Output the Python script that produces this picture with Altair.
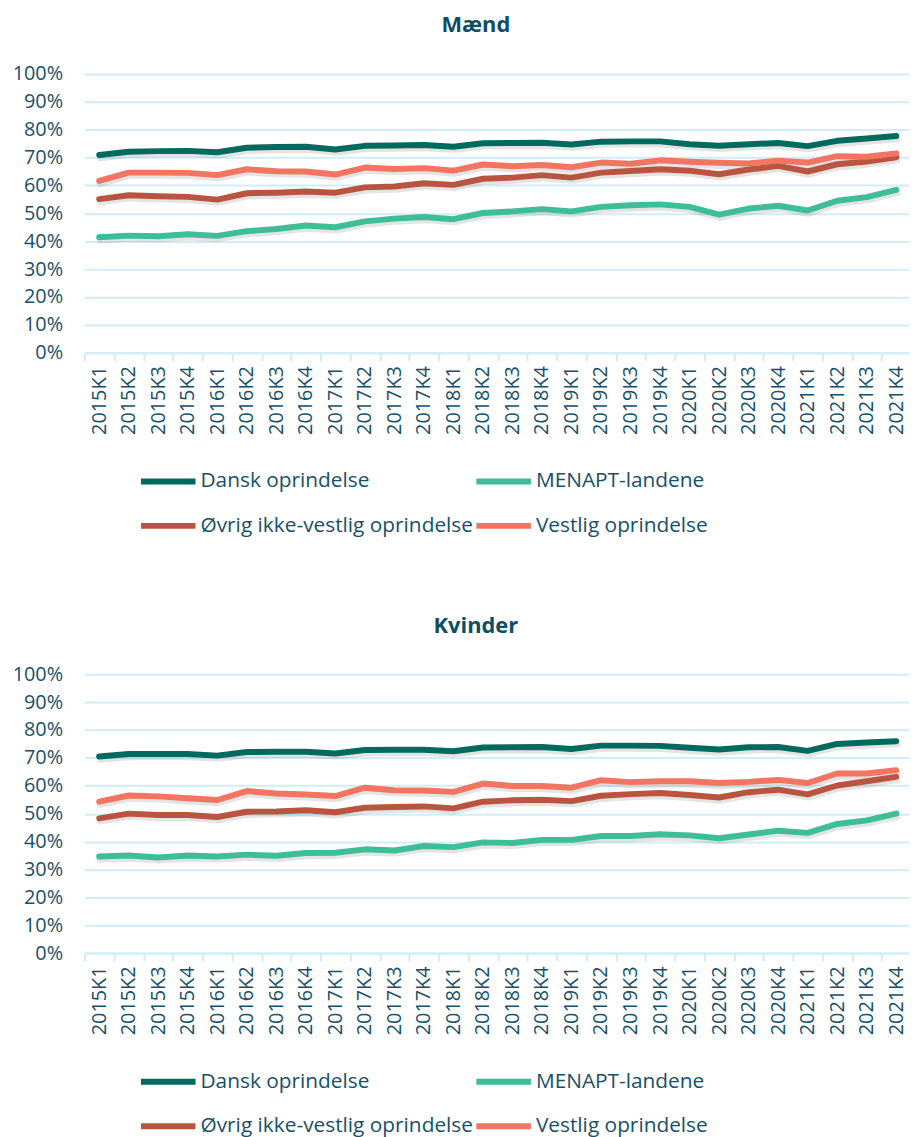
import altair as alt
import pandas as pd

quarters = [f"{y}K{q}" for y in range(2015, 2022) for q in range(1, 5)]

series_names = ["Dansk oprindelse", "MENAPT-landene",
                "Øvrig ikke-vestlig oprindelse", "Vestlig oprindelse"]
series_colors = ["#006A5F", "#3DBD98", "#B95441", "#F27461"]

# Mænd
m_dansk = [70.9, 72.1, 72.3, 72.4, 71.9, 73.5, 73.8, 73.9, 72.9, 74.2, 74.3, 74.5, 73.9, 75.1,
           75.2, 75.3, 74.7, 75.7, 75.8, 75.8, 74.8, 74.2, 74.8, 75.2, 74.1, 76.0, 76.8, 77.7]
m_menapt = [41.4, 42.0, 41.8, 42.5, 41.9, 43.6, 44.4, 45.6, 45.0, 47.1, 48.1, 48.7, 47.9, 50.1,
            50.7, 51.5, 50.7, 52.3, 52.9, 53.2, 52.3, 49.5, 51.7, 52.7, 51.0, 54.5, 55.8, 58.4]
m_ovrig = [55.1, 56.5, 56.1, 55.9, 54.9, 57.2, 57.4, 57.8, 57.4, 59.3, 59.6, 60.8, 60.2, 62.4,
           62.8, 63.7, 62.8, 64.6, 65.2, 65.8, 65.3, 64.0, 65.7, 67.0, 65.0, 67.6, 68.6, 70.1]
m_vestlig = [61.6, 64.6, 64.6, 64.5, 63.7, 65.8, 65.1, 65.0, 63.9, 66.4, 65.9, 66.2, 65.3, 67.5,
             66.9, 67.3, 66.5, 68.2, 67.8, 69.0, 68.5, 68.1, 67.9, 68.9, 68.2, 70.5, 70.3, 71.5]

# Kvinder
k_dansk = [70.5, 71.4, 71.4, 71.4, 70.8, 72.1, 72.2, 72.2, 71.6, 72.8, 72.9, 72.9, 72.4, 73.7,
           73.8, 73.9, 73.2, 74.4, 74.4, 74.3, 73.6, 73.0, 73.8, 73.9, 72.5, 75.0, 75.5, 76.0]
k_menapt = [34.6, 35.0, 34.3, 35.0, 34.6, 35.3, 34.9, 35.9, 36.0, 37.2, 36.8, 38.4, 38.0, 39.7,
            39.5, 40.6, 40.6, 42.0, 42.0, 42.6, 42.2, 41.2, 42.5, 43.9, 43.1, 46.3, 47.6, 50.0]
k_ovrig = [48.3, 50.0, 49.5, 49.5, 48.8, 50.7, 50.8, 51.2, 50.5, 52.1, 52.4, 52.6, 51.9, 54.3,
           54.8, 55.0, 54.5, 56.4, 57.0, 57.4, 56.7, 55.8, 57.7, 58.6, 56.9, 60.1, 61.6, 63.2]
k_vestlig = [54.3, 56.5, 56.2, 55.5, 54.9, 58.1, 57.2, 56.9, 56.3, 59.3, 58.4, 58.3, 57.8, 60.8,
             59.9, 59.9, 59.3, 62.0, 61.3, 61.6, 61.6, 61.0, 61.4, 62.1, 61.0, 64.4, 64.4, 65.6]

TEXT = "#17506A"
TITLE = "#0D4E62"
GRID = "#D0EDF8"
FONT = "Open Sans"


def long_df(values_list):
    rows = []
    for name, vals in zip(series_names, values_list):
        for q, v in zip(quarters, vals):
            rows.append({"kvartal": q, "serie": name, "andel": v / 100.0})
    return pd.DataFrame(rows)


def panel(title, values_list):
    df = long_df(values_list)
    x = alt.X("kvartal:N", sort=quarters, title=None,
              scale=alt.Scale(paddingInner=0, paddingOuter=0),
              axis=alt.Axis(labelAngle=-90, labelFontSize=20, labelColor=TEXT, labelFont=FONT,
                            labelPadding=5, domainColor=GRID, domainWidth=2,
                            tickColor=GRID, tickWidth=2, tickSize=8, tickBand="extent",
                            grid=False))
    y = alt.Y("andel:Q", title=None, scale=alt.Scale(domain=[0, 1], nice=False),
              axis=alt.Axis(values=[i / 10 for i in range(11)], format=".0%",
                            labelFontSize=20, labelColor=TEXT, labelFont=FONT,
                            labelPadding=22, domain=False, ticks=False,
                            gridColor=GRID, gridWidth=2))
    shadow = alt.Chart(df).mark_line(
        strokeWidth=6.5, color="#555555", opacity=0.16, yOffset=3, xOffset=1,
        strokeCap="round", strokeJoin="round"
    ).encode(x=x, y=y, detail="serie:N")
    lines = alt.Chart(df).mark_line(
        strokeWidth=6, strokeCap="round", strokeJoin="round"
    ).encode(
        x=x, y=y,
        color=alt.Color("serie:N", sort=series_names,
                        scale=alt.Scale(domain=series_names, range=series_colors),
                        legend=alt.Legend(
                            title=None, orient="none", legendX=54, legendY=380,
                            direction="horizontal", columns=2,
                            symbolType="stroke", symbolSize=3025, symbolStrokeWidth=6,
                            labelFontSize=21, labelColor=TEXT, labelFont=FONT,
                            labelOffset=2, labelLimit=500,
                            rowPadding=2, columnPadding=-11)),
    )
    return alt.layer(shadow, lines).properties(
        width=833, height=281,
        title=alt.TitleParams(title, fontSize=22, fontWeight="bold", color=TITLE,
                              font=FONT, anchor="middle", dx=-22, offset=27),
    )


top = panel("Mænd", [m_dansk, m_menapt, m_ovrig, m_vestlig])
bottom = panel("Kvinder", [k_dansk, k_menapt, k_ovrig, k_vestlig])

chart = alt.vconcat(top, bottom, spacing=77).resolve_legend(color="independent").properties(
    padding={"left": 4, "top": 2, "right": -3, "bottom": 0}
).configure_view(stroke=None)

chart.save("out.html", embed_options={"renderer": "svg", "actions": False})
